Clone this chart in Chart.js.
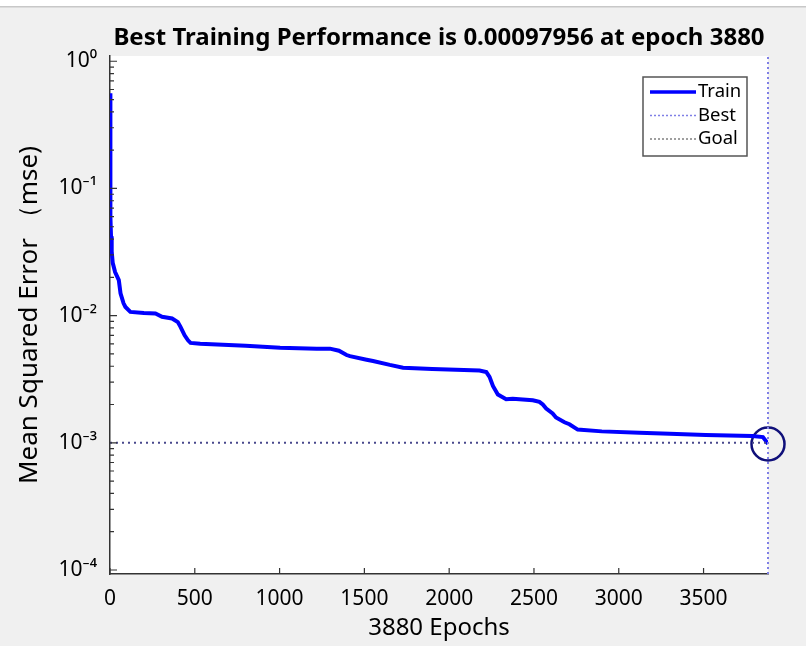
<!DOCTYPE html>
<html>
<head>
<meta charset="utf-8">
<script src="https://cdn.jsdelivr.net/npm/chart.js@4.4.1/dist/chart.umd.min.js"></script>
<style>
  html, body { margin: 0; padding: 0; background: #f0f0f0; }
  #wrap { width: 806px; height: 646px; }
</style>
</head>
<body>
<div id="wrap"><canvas id="perfChart" width="806" height="646"></canvas></div>
<script>
// training record
const epochs = [0, 1, 2, 4, 6, 10, 16, 30, 52, 62, 80, 91, 120, 200, 268, 307, 366, 400, 415, 440, 460, 475,
  532, 800, 1003, 1219, 1297, 1350, 1395, 1415, 1513, 1551, 1650, 1728, 1900, 2179, 2219, 2238, 2258, 2287,
  2336, 2375, 2493, 2532, 2552, 2572, 2610, 2630, 2680, 2709, 2758, 2900, 3121, 3300, 3513, 3787, 3850, 3866, 3880];
const trainPerf = [0.56, 0.25, 0.12, 0.06, 0.042, 0.032, 0.026, 0.022, 0.019, 0.015, 0.0125, 0.0117, 0.0107, 0.0105,
  0.0104, 0.0098, 0.0095, 0.0089, 0.0082, 0.0070, 0.0064, 0.0061, 0.0060, 0.0058, 0.0056, 0.0055, 0.0055, 0.0053,
  0.0049, 0.0048, 0.0045, 0.0044, 0.0041, 0.0039, 0.0038, 0.0037, 0.0036, 0.0033, 0.0028, 0.0024, 0.0022, 0.00222,
  0.00216, 0.0021, 0.0020, 0.00186, 0.0017, 0.00158, 0.00145, 0.0014, 0.00127, 0.00123, 0.0012, 0.00118, 0.00115,
  0.00113, 0.00111, 0.00104, 0.00097956];

const bestEpoch = 3880;
const bestPerf = 0.00097956;
const goal = 0.001;

const xTicks = [0, 500, 1000, 1500, 2000, 2500, 3000, 3500];
const yTicks = [1e-4, 1e-3, 1e-2, 1e-1, 1];
const yTickLabels = ['10⁻⁴', '10⁻³', '10⁻²', '10⁻¹', '10⁰'];
const yMin = 0.93e-4, yMax = 1.1;

const FONT = '"Noto Sans", sans-serif';
const AXIS = '#333333';

// grey figure, white axes, strip at the top
const backdrop = {
  id: 'backdrop',
  beforeDraw(chart) {
    const {ctx, chartArea: a} = chart;
    ctx.save();
    ctx.fillStyle = '#f0f0f0';
    ctx.fillRect(0, 0, chart.width, chart.height);
    ctx.fillStyle = '#ffffff';
    ctx.fillRect(0, 0, chart.width, 6);
    ctx.fillStyle = '#c8c8c8';
    ctx.fillRect(0, 6, chart.width, 1.5);
    ctx.fillStyle = '#ffffff';
    ctx.fillRect(a.left, a.top, a.right - a.left, a.bottom - a.top);
    ctx.restore();
  }
};

// matlab style inward ticks
const inTicks = {
  id: 'inTicks',
  afterDraw(chart) {
    const {ctx, chartArea: a, scales: {x, y}} = chart;
    ctx.save();
    ctx.strokeStyle = AXIS;
    ctx.lineWidth = 1.2;
    ctx.beginPath();
    xTicks.forEach(v => {
      const px = x.getPixelForValue(v);
      ctx.moveTo(px, a.bottom);
      ctx.lineTo(px, a.bottom - 6);
    });
    for (let e = -4; e <= 0; e++) {
      for (let m = 1; m <= 9; m++) {
        const v = m * Math.pow(10, e);
        if (v < yMin || v > yMax) continue;
        const py = y.getPixelForValue(v);
        ctx.moveTo(a.left, py);
        ctx.lineTo(a.left + (m === 1 ? 7 : 4), py);
      }
    }
    ctx.stroke();
    ctx.restore();
  }
};

const legendBox = {
  id: 'legendBox',
  afterDraw(chart) {
    const {ctx} = chart;
    const items = [
      {text: 'Train', color: '#0000ff', width: 3.5, dash: []},
      {text: 'Best', color: '#7f7fe6', width: 1.5, dash: [2, 2]},
      {text: 'Goal', color: '#808080', width: 1.5, dash: [2, 2]}
    ];
    ctx.save();
    ctx.fillStyle = '#ffffff';
    ctx.fillRect(643, 77, 104, 79);
    ctx.strokeStyle = '#555555';
    ctx.lineWidth = 1.5;
    ctx.strokeRect(643, 77, 104, 79);
    ctx.font = '18.5px ' + FONT;
    ctx.textBaseline = 'middle';
    items.forEach((it, i) => {
      const yy = 92 + i * 23.5;
      ctx.strokeStyle = it.color;
      ctx.lineWidth = it.width;
      ctx.setLineDash(it.dash);
      ctx.beginPath();
      ctx.moveTo(650, yy);
      ctx.lineTo(696, yy);
      ctx.stroke();
      ctx.setLineDash([]);
      ctx.fillStyle = '#000000';
      ctx.fillText(it.text, 698, yy);
    });
    ctx.restore();
  }
};

const trainData = epochs.map((e, i) => ({x: e, y: trainPerf[i]}));

new Chart(document.getElementById('perfChart'), {
  type: 'line',
  data: {
    datasets: [
      {
        label: 'Goal',
        data: [{x: 0, y: goal}, {x: bestEpoch, y: goal}],
        borderColor: '#48488c',
        borderWidth: 2,
        borderDash: [2, 4],
        pointRadius: 0
      },
      {
        label: 'Best',
        data: [{x: bestEpoch, y: yMin}, {x: bestEpoch, y: yMax}],
        borderColor: '#7f7fe6',
        borderWidth: 2,
        borderDash: [2, 3],
        pointRadius: 0,
        clip: false
      },
      {
        label: 'Train',
        data: trainData,
        borderColor: '#0000ff',
        borderWidth: 4,
        pointRadius: 0,
        tension: 0
      },
      {
        label: 'Best point',
        data: [{x: bestEpoch, y: bestPerf}],
        showLine: false,
        pointRadius: 16.5,
        pointBorderWidth: 2.5,
        pointBorderColor: '#10107a',
        pointBackgroundColor: 'rgba(0,0,0,0)',
        clip: false
      }
    ]
  },
  options: {
    responsive: false,
    animation: false,
    devicePixelRatio: 1,
    layout: { padding: { top: 0, right: 38, left: 0, bottom: 0 } },
    plugins: {
      legend: { display: false },
      tooltip: { enabled: false },
      title: {
        display: true,
        fullSize: false,
        text: 'Best Training Performance is 0.00097956 at epoch 3880',
        color: '#000000',
        font: { family: FONT, size: 24, weight: 'bold', lineHeight: 1.2 },
        padding: { top: 23.5, bottom: 3.7 }
      }
    },
    scales: {
      x: {
        type: 'linear',
        min: 0,
        max: bestEpoch,
        afterBuildTicks: s => { s.ticks = xTicks.map(v => ({value: v})); },
        afterFit: s => { s.height = 72; },
        ticks: {
          color: '#000',
          font: { family: FONT, size: 21 },
          padding: 12,
          maxRotation: 0,
          autoSkip: false,
          callback: v => String(v)
        },
        grid: { display: false, drawTicks: false },
        border: { display: true, color: AXIS, width: 1.5 },
        title: {
          display: true,
          text: '3880 Epochs',
          color: '#000',
          font: { family: FONT, size: 24 },
          padding: { top: 0, bottom: 3.6 }
        }
      },
      y: {
        type: 'logarithmic',
        min: yMin,
        max: yMax,
        afterBuildTicks: s => { s.ticks = yTicks.map(v => ({value: v})); },
        afterFit: s => { s.width = 110; },
        ticks: {
          color: '#000',
          font: { family: FONT, size: 21 },
          padding: 13,
          autoSkip: false,
          callback: v => {
            const i = yTicks.findIndex(t => Math.abs(t - v) / t < 1e-6);
            return i >= 0 ? yTickLabels[i] : '';
          }
        },
        grid: { display: false, drawTicks: false },
        border: { display: true, color: AXIS, width: 1.5 },
        title: {
          display: true,
          text: 'Mean Squared Error （mse)',
          color: '#000',
          font: { family: FONT, size: 26 },
          padding: { top: 14, bottom: 0 }
        }
      }
    }
  },
  plugins: [backdrop, inTicks, legendBox]
});
</script>
</body>
</html>
